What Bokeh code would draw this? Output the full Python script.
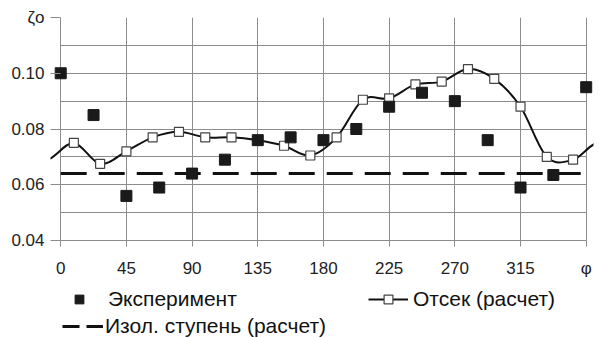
import numpy as np
from bokeh.plotting import figure
from bokeh.layouts import column
from bokeh.models import Range1d, FixedTicker, Legend, LegendItem
from bokeh.embed import file_html
from bokeh.resources import INLINE

# ---- data ----
exp_phi = [0, 22.5, 45, 67.5, 90, 112.5, 135, 157.5, 180, 202.5, 225, 247.5,
           270, 292.5, 315, 337.5, 360]
exp_zeta = [0.100, 0.085, 0.056, 0.059, 0.064, 0.069, 0.076, 0.077, 0.076,
            0.080, 0.088, 0.093, 0.090, 0.076, 0.059, 0.0635, 0.095]

calc_phi = [9, 27, 45, 63, 81, 99, 117, 135, 153, 171, 189, 207, 225, 243,
            261, 279, 297, 315, 333, 351]
calc_zeta = [0.075, 0.0675, 0.072, 0.077, 0.079, 0.077, 0.077, 0.076, 0.074,
             0.0705, 0.077, 0.0905, 0.091, 0.096, 0.097, 0.1015, 0.098, 0.088,
             0.070, 0.069]

stage_zeta = 0.064

x_ticks = [0, 45, 90, 135, 180, 225, 270, 315, 360]
x_tick_labels = ["0", "45", "90", "135", "180", "225", "270", "315", "φ"]
y_ticks = [0.04, 0.06, 0.08, 0.10, 0.12]
y_tick_labels = ["0.04", "0.06", "0.08", "0.10", "ζo"]
y_minor = [0.05, 0.07, 0.09, 0.11]
period = 360

label_exp = "Эксперимент"
label_calc = "Отсек (расчет)"
label_stage = "Изол. ступень (расчет)"

FONT = "Liberation Sans"
GRID = "#8c8c8c"
INK = "#111111"

# ================= main chart =================
p = figure(width=599, height=280, output_backend="svg", toolbar_location=None,
           x_range=Range1d(-7, 365), y_range=Range1d(0.04, 0.12),
           min_border_left=50, min_border_right=6, min_border_top=17,
           min_border_bottom=40)
p.outline_line_color = None
p.background_fill_color = "white"
p.border_fill_color = "white"

# grid
p.xgrid.ticker = FixedTicker(ticks=x_ticks)
p.ygrid.ticker = FixedTicker(ticks=y_ticks, minor_ticks=y_minor)
for g in (p.xgrid[0], p.ygrid[0]):
    g.grid_line_color = GRID
    g.grid_line_width = 1
p.ygrid.minor_grid_line_color = GRID
p.ygrid.minor_grid_line_width = 1
p.xgrid.cross_bounds = (y_ticks[0], y_ticks[-1])
p.ygrid.cross_bounds = (x_ticks[0], x_ticks[-1])

# axes
p.xaxis.ticker = FixedTicker(ticks=x_ticks)
p.xaxis.major_label_overrides = {t: l for t, l in zip(x_ticks, x_tick_labels)}
p.yaxis.ticker = FixedTicker(ticks=y_ticks)
p.yaxis.major_label_overrides = {t: l for t, l in zip(y_ticks, y_tick_labels)}
p.xaxis.bounds = (x_ticks[0], x_ticks[-1])
for ax in (p.xaxis[0], p.yaxis[0]):
    ax.axis_line_color = GRID
    ax.major_tick_line_color = GRID
    ax.minor_tick_in = 0
    ax.minor_tick_out = 0
    ax.major_label_text_font = FONT
    ax.major_label_text_font_size = "17px"
    ax.major_label_text_color = "#222222"
p.xaxis.major_tick_in = 0
p.xaxis.major_tick_out = 6
p.xaxis.major_label_standoff = 12
p.yaxis.axis_line_color = None
p.yaxis.major_tick_out = 0
p.yaxis.major_tick_in = 10
p.yaxis.major_label_standoff = 6

# smooth periodic curve through the calculated points (Bezier segments)
ext_x = [c - period for c in calc_phi[-2:]] + calc_phi + [c + period for c in calc_phi[:2]]
ext_y = calc_zeta[-2:] + calc_zeta + calc_zeta[:2]
ex = np.array(ext_x, dtype=float)
ey = np.array(ext_y, dtype=float)
i = np.arange(1, len(ex) - 2)
x0, y0 = ex[i], ey[i]
x1, y1 = ex[i + 1], ey[i + 1]
cx0 = x0 + (ex[i + 1] - ex[i - 1]) / 6
cy0 = y0 + (ey[i + 1] - ey[i - 1]) / 6
cx1 = x1 - (ex[i + 2] - ex[i]) / 6
cy1 = y1 - (ey[i + 2] - ey[i]) / 6
p.bezier(x0=x0, y0=y0, x1=x1, y1=y1, cx0=cx0, cy0=cy0, cx1=cx1, cy1=cy1,
         line_color=INK, line_width=2)

# dashed isolated-stage line
p.line([exp_phi[0], exp_phi[-1]], [stage_zeta, stage_zeta],
       line_color=INK, line_width=3, line_dash="26 12")

p.scatter(calc_phi, calc_zeta, marker="square", size=9,
          fill_color="white", line_color="#444444", line_width=1.2)
p.scatter(exp_phi, exp_zeta, marker="square", size=11,
          fill_color="#1a1a1a", line_color="#1a1a1a")

# ================= legend strip =================
q = figure(width=599, height=58, output_backend="svg", toolbar_location=None,
           x_axis_location=None, y_axis_location=None,
           min_border=0, min_border_left=0, min_border_right=0,
           min_border_top=0, min_border_bottom=0)
q.outline_line_color = None
q.xgrid.visible = False
q.ygrid.visible = False
q.background_fill_color = "white"
q.border_fill_color = "white"

l_exp = q.scatter(exp_phi, exp_zeta, marker="square", size=10,
                  fill_color="#1a1a1a", line_color="#1a1a1a", visible=False)
l_calc_line = q.line(calc_phi, calc_zeta, line_color=INK, line_width=2, visible=False)
l_calc_sq = q.scatter(calc_phi, calc_zeta, marker="square", size=8,
                      fill_color="white", line_color="#444444", line_width=1.2,
                      visible=False)
l_stage = q.line([exp_phi[0], exp_phi[-1]], [stage_zeta, stage_zeta],
                 line_color=INK, line_width=3, line_dash="17 7", visible=False)

def make_legend(label, renderers, loc, gw, gh, standoff):
    return Legend(items=[LegendItem(label=label, renderers=renderers)],
                  location=loc, orientation="horizontal", padding=0, margin=0,
                  glyph_width=gw, glyph_height=gh, label_height=gh,
                  label_standoff=standoff, label_text_font=FONT,
                  label_text_font_size="21px", label_text_color=INK,
                  border_line_color=None, background_fill_alpha=0,
                  inactive_fill_alpha=0)

# the legend strip's frame is aligned with the chart's frame (left edge at 50 px)
q.add_layout(make_legend(label_exp, [l_exp], (9, 27), 40, 22, 9), "center")
q.add_layout(make_legend(label_calc, [l_calc_line, l_calc_sq], (318, 27), 40, 22, 5), "center")
q.add_layout(make_legend(label_stage, [l_stage], (12, 0), 41, 18, 2), "center")

layout = column(p, q, spacing=0)
open("out.html", "w").write(file_html(layout, INLINE))
